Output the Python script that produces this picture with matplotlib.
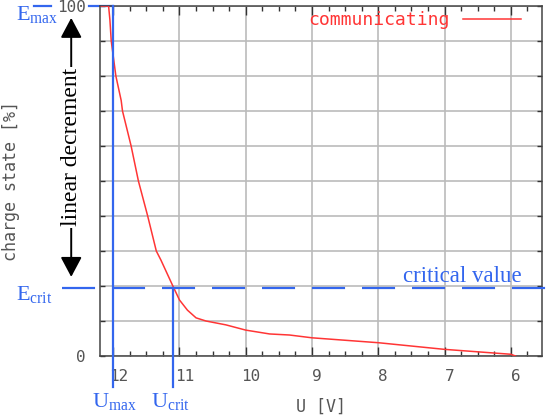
import matplotlib
matplotlib.use("Agg")
import matplotlib.pyplot as plt
import matplotlib.transforms as mtransforms

# battery discharge: terminal voltage vs. charge state
voltage = [12.18, 12.07, 12.05, 12.03, 11.96, 11.88, 11.86, 11.73, 11.62, 11.48,
           11.35, 11.28, 11.10, 11.00, 10.88, 10.75, 10.60, 10.30, 10.00, 9.64,
           9.34, 9.00, 8.00, 7.00, 6.00, 5.93]
charge = [100, 100, 96, 90, 80, 73, 70, 60, 50, 40,
          30, 27.4, 20, 16, 13.1, 10.9, 10, 8.9, 7.4, 6.3,
          6.0, 5.2, 3.8, 1.9, 0.5, 0]
series_name = "communicating"

x_ticks = [12, 11, 10, 9, 8, 7, 6]
y_ticks = [0, 10, 20, 30, 40, 50, 60, 70, 80, 90, 100]
y_ticklabels = ["0", "", "", "", "", "", "", "", "", "", "100"]

u_max = 12.0
u_crit = 11.1
e_max = 100
e_crit = 19.3

plt.rcParams["mathtext.fontset"] = "custom"
plt.rcParams["mathtext.rm"] = "Liberation Serif"

blue = "#3366ee"
red = "#ff3535"
grey = "#555555"
mono = "DejaVu Sans Mono"
serif = "Liberation Serif"

fig = plt.figure(figsize=(5.49, 4.16), dpi=100)
ax = fig.add_axes([0.1821, 0.1442, 0.8051, 0.8414])

ax.plot(voltage, charge, color=red, lw=1.1, label=series_name, zorder=3)

ax.set_xlim(12.2, 5.53)
ax.set_ylim(0, 100)
ax.set_xticks(x_ticks)
ax.set_xticklabels([str(v) for v in x_ticks])
ax.set_xticks([v / 4 for v in range(23, 49)], minor=True)
ax.set_yticks(y_ticks)
ax.set_yticklabels(y_ticklabels)

ax.grid(True, which="major", color="#bbbbbb", lw=1.2)
ax.set_axisbelow(True)
for s in ax.spines.values():
    s.set_color("#444444")
    s.set_linewidth(1.1)

ax.tick_params(axis="both", which="both", direction="in", top=True, right=True,
               colors="#333333", labelcolor=grey, labelsize=11.5)
ax.tick_params(axis="x", which="major", length=6.5, width=1, pad=9)
ax.tick_params(axis="x", which="minor", length=3.5, width=1)
ax.tick_params(axis="y", which="major", length=3.5, width=1, pad=10)
for lab in ax.get_xticklabels() + ax.get_yticklabels():
    lab.set_family(mono)
shift = mtransforms.ScaledTranslation(0.05, 0, fig.dpi_scale_trans)
for lab in ax.get_xticklabels():
    lab.set_transform(lab.get_transform() + shift)

ax.set_xlabel("U [V]", family=mono, color=grey, fontsize=12, labelpad=10)
ax.set_ylabel("charge state [%]", family=mono, color=grey, fontsize=12)
ax.yaxis.set_label_coords(-0.181, 0.5)

leg = ax.legend(loc="upper right", bbox_to_anchor=(0.9525, 0.985), frameon=False,
                markerfirst=False, handlelength=3.2, handletextpad=0.75,
                borderpad=0, borderaxespad=0, labelcolor=red,
                prop={"family": mono, "size": 13})

# markers for maximum and critical levels
lw = 1.6
ax.plot([u_max, u_max], [e_max, -8.9], color=blue, lw=lw, clip_on=False, zorder=4)
ax.plot([u_crit, u_crit], [e_crit, -8.9], color=blue, lw=lw, clip_on=False, zorder=4)
ax.plot([13.19, 12.94], [e_max, e_max], color=blue, lw=lw, clip_on=False)
ax.plot([12.36, u_max], [e_max, e_max], color=blue, lw=lw, clip_on=False)
ax.plot([12.77, 5.2], [e_crit, e_crit], color=blue, lw=lw, clip_on=False,
        linestyle=(0, (23.8 / lw, 12.2 / lw)), zorder=4)

ax.text(13.465, 96, r"$\mathrm{E}_{\mathrm{max}}$", color=blue, fontsize=16,
        ha="left", va="baseline", clip_on=False)
ax.text(13.465, 16.0, r"$\mathrm{E}_{\mathrm{crit}}$", color=blue, fontsize=16,
        ha="left", va="baseline", clip_on=False)
ax.text(12.317, -14.6, r"$\mathrm{U}_{\mathrm{max}}$", color=blue, fontsize=16,
        ha="left", va="baseline", clip_on=False)
ax.text(11.426, -14.6, r"$\mathrm{U}_{\mathrm{crit}}$", color=blue, fontsize=16,
        ha="left", va="baseline", clip_on=False)
ax.text(7.634, 21.1, "critical value", color=blue, family=serif, fontsize=16.5,
        ha="left", va="baseline", clip_on=False)

# linear decrement span
ax.annotate("", xy=(12.634, 96.6), xytext=(12.634, 22.6),
            arrowprops=dict(arrowstyle="<|-|>,head_length=12.2,head_width=6.5",
                            mutation_scale=1, color="black", lw=1.4,
                            shrinkA=0, shrinkB=0),
            annotation_clip=False)
ax.text(12.634, 59.7, "linear decrement", rotation=90, family=serif, fontsize=17,
        ha="center", va="center", color="black", clip_on=False,
        bbox=dict(facecolor="white", edgecolor="none", pad=1))

fig.savefig("out.png", dpi=100)
